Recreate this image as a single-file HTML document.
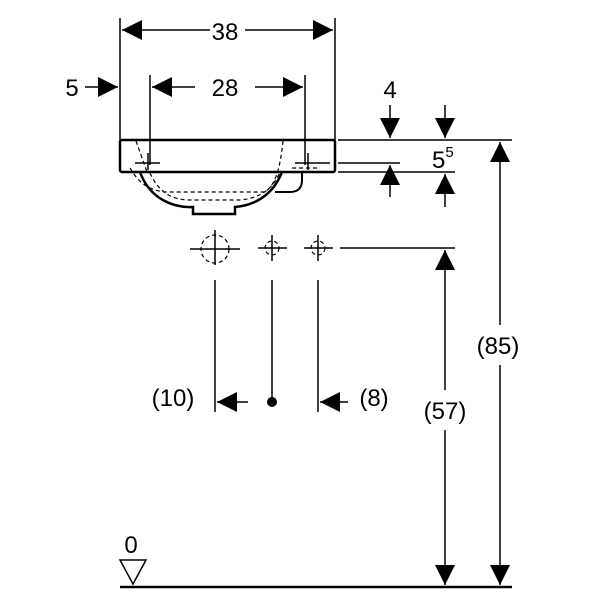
<!DOCTYPE html>
<html><head><style>body{margin:0;background:#fff}svg{display:block}text{font-family:"Liberation Sans",sans-serif;font-size:24px;fill:#000}</style></head><body>
<svg width="600" height="600" viewBox="0 0 600 600">
<defs><marker id="a" viewBox="0 0 10 10" refX="10" refY="5" markerWidth="20" markerHeight="20" markerUnits="userSpaceOnUse" orient="auto"><path d="M0,0L10,5L0,10z"/></marker></defs>
<g stroke="#000" stroke-width="1.5" fill="none">
<path d="M120,18V140M335,18V140M150,75V165M305,75V165"/>
<path d="M338,140H512M338,163H400M338,172H455M340,248H455"/>
<path d="M120,587H512" stroke-width="2.5"/>
<rect x="120" y="140" width="215" height="32" rx="2" stroke-width="2.5"/>
<path d="M140,172C150,200 175,208 193,207V214H235V207C260,205 275,190 282,172" stroke-width="2.5"/>
<path d="M280,172H302V180Q302,192 290,192H275" stroke-width="2"/>
<g stroke-dasharray="4,3" stroke-width="1.2">
<path d="M136,141L147,172M130,168C140,185 150,190 165,192H265C275,185 280,170 283,141M150,173C160,195 175,200 190,200H240C260,198 272,190 280,172M292,168H320"/>
<circle cx="215" cy="249" r="14"/><circle cx="272" cy="248" r="7"/><circle cx="318" cy="248" r="7"/>
</g>
<path d="M135,163H160M148,153V170M295,163H330M308,153V170"/>
<path d="M190,249H240M215,230V265M258,248H287M272,235V261M304,248H333M318,235V261"/>
<path d="M215,280V412M272,280V402M318,280V412"/>
</g>
<g stroke="#000" stroke-width="1.5" fill="none" marker-end="url(#a)">
<path d="M210,30H122"/><path d="M245,30H333"/>
<path d="M195,87H152"/><path d="M255,87H303"/>
<path d="M85,87H118"/>
<path d="M390,105V138"/><path d="M390,197V165"/>
<path d="M445,105V138"/><path d="M445,207V174"/>
<path d="M500,325V142"/><path d="M500,365V585"/>
<path d="M445,390V250"/><path d="M445,430V585"/>
<path d="M248,402H217"/><path d="M348,402H320"/>
</g>
<circle cx="272" cy="402" r="5"/>
<path d="M120,560H146L133,584Z" fill="none" stroke="#000" stroke-width="1.5"/>
<text x="225" y="40" text-anchor="middle">38</text>
<text x="225" y="96" text-anchor="middle">28</text>
<text x="72" y="96" text-anchor="middle">5</text>
<text x="390" y="98" text-anchor="middle">4</text>
<text x="432" y="168">5<tspan font-size="15" dy="-11">5</tspan></text>
<text x="498" y="354" text-anchor="middle">(85)</text>
<text x="445" y="419" text-anchor="middle">(57)</text>
<text x="173" y="406" text-anchor="middle">(10)</text>
<text x="374" y="406" text-anchor="middle">(8)</text>
<text x="131" y="553" text-anchor="middle">0</text>
</svg>
</body></html>
